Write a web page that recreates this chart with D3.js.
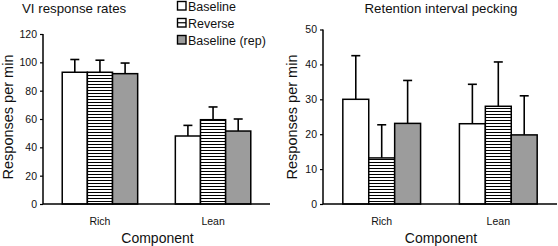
<!DOCTYPE html>
<html>
<head>
<meta charset="utf-8">
<script src="https://cdn.jsdelivr.net/npm/d3@7"></script>
<style>
  body { margin: 0; background: #fff; }
  svg { font-family: Arial, "Liberation Sans", sans-serif; display: block; }
</style>
</head>
<body>
<svg id="chart" width="558" height="246"></svg>
<script>
// data
let components = ["Rich", "Lean"];
let conditions = ["Baseline", "Reverse", "Baseline (rep)"];

let viMeans = [[93, 93, 92], [48, 59.5, 51.5]];
let viErr = [[9, 8.5, 7.5], [7.5, 9, 8.5]];

let riMeans = [[30, 13.2, 23.1], [23, 28, 19.8]];
let riErr = [[12.5, 9.5, 12.3], [11.3, 12.7, 11.2]];

let viTicks = [0, 20, 40, 60, 80, 100, 120];
let riTicks = [0, 10, 20, 30, 40, 50];

let svg = d3.select("#chart");

// stripes for "Reverse"
let defs = svg.append("defs");
let pat = defs.append("pattern")
    .attr("id", "stripes")
    .attr("patternUnits", "userSpaceOnUse")
    .attr("width", 6).attr("height", 3);
pat.append("rect").attr("width", 6).attr("height", 3).attr("fill", "#fff");
pat.append("line").attr("x1", 0).attr("x2", 6).attr("y1", 0.5).attr("y2", 0.5)
    .attr("stroke", "#000").attr("stroke-width", 1);

let fills = ["#fff", "url(#stripes)", "#9c9c9c"];

function panel(opts) {
    let g = svg.append("g");

    let x = d3.scaleBand().domain(components)
        .range([opts.x0, opts.x1])
        .paddingInner(0.333).paddingOuter(0.17);
    let xs = d3.scaleBand().domain(conditions).range([0, x.bandwidth()]);
    let y = d3.scaleLinear().domain([0, opts.ymax]).range([204, opts.ytop]);

    // bars + error bars
    components.forEach((c, i) => {
        conditions.forEach((s, j) => {
            let m = opts.means[i][j], e = opts.err[i][j];
            let bx = x(c) + xs(s);
            let cx = bx + xs.bandwidth() / 2;
            g.append("line")
                .attr("x1", cx).attr("x2", cx)
                .attr("y1", y(m)).attr("y2", y(m + e))
                .attr("stroke", "#000").attr("stroke-width", 1.6);
            g.append("line")
                .attr("x1", cx - 4.5).attr("x2", cx + 4.5)
                .attr("y1", y(m + e)).attr("y2", y(m + e))
                .attr("stroke", "#000").attr("stroke-width", 1.6);
            g.append("rect")
                .attr("x", bx).attr("y", y(m))
                .attr("width", xs.bandwidth()).attr("height", y(0) - y(m))
                .attr("fill", fills[j])
                .attr("stroke", "#000").attr("stroke-width", 1.5);
        });
    });

    // y axis
    let ya = g.append("g")
        .attr("transform", `translate(${opts.x0},0)`)
        .call(d3.axisLeft(y).tickValues(opts.ticks).tickSize(3).tickPadding(3));
    ya.select(".domain").attr("d", `M-0,${y(opts.ymax)}V${y(0)}`).attr("stroke-width", 1.5);
    ya.selectAll(".tick line").attr("stroke-width", 1.2);
    ya.selectAll("text").attr("font-size", 10.5).attr("fill", "#111");

    // x axis
    let xa = g.append("g")
        .attr("transform", `translate(0,${y(0)})`)
        .call(d3.axisBottom(x).tickSize(0).tickPadding(14));
    xa.select(".domain").attr("d", `M${opts.x0},0H${opts.x1}`).attr("stroke-width", 1.5);
    xa.selectAll("text").attr("font-size", 10.5).attr("fill", "#111");

    // labels
    g.append("text")
        .attr("transform", `translate(${opts.ylabX},117) rotate(-90)`)
        .attr("text-anchor", "middle").attr("dy", "0.35em")
        .attr("font-size", 14.5).attr("fill", "#111")
        .text("Responses per min");
    g.append("text")
        .attr("x", (opts.x0 + opts.x1) / 2 + 1).attr("y", 243)
        .attr("text-anchor", "middle")
        .attr("font-size", 14).attr("fill", "#111")
        .text("Component");
    g.append("text")
        .attr("x", opts.titleX).attr("y", 12.5)
        .attr("text-anchor", opts.titleAnchor)
        .attr("font-size", 13.3).attr("fill", "#111")
        .text(opts.title);
}

panel({
    x0: 43, x1: 270, ymax: 120, ytop: 34,
    means: viMeans, err: viErr, ticks: viTicks,
    ylabX: 8, title: "VI response rates", titleX: 22, titleAnchor: "start"
});
panel({
    x0: 323, x1: 557, ymax: 50, ytop: 29.5,
    means: riMeans, err: riErr, ticks: riTicks,
    ylabX: 292, title: "Retention interval pecking", titleX: 441, titleAnchor: "middle"
});

// legend
let leg = svg.append("g").attr("transform", "translate(177,0)");
conditions.forEach((s, j) => {
    let row = leg.append("g").attr("transform", `translate(0,${j * 17})`);
    row.append("rect")
        .attr("x", 0.5).attr("y", 1.5).attr("width", 8.5).attr("height", 8.5)
        .attr("fill", j === 1 ? "#fff" : fills[j])
        .attr("stroke", "#000").attr("stroke-width", 1.4);
    if (j === 1) {
        row.append("line").attr("x1", 0.5).attr("x2", 9).attr("y1", 5.75).attr("y2", 5.75)
            .attr("stroke", "#000").attr("stroke-width", 1.2);
    }
    row.append("text")
        .attr("x", 11).attr("y", 10.5)
        .attr("font-size", 12.5).attr("fill", "#111")
        .text(s);
});
</script>
</body>
</html>
